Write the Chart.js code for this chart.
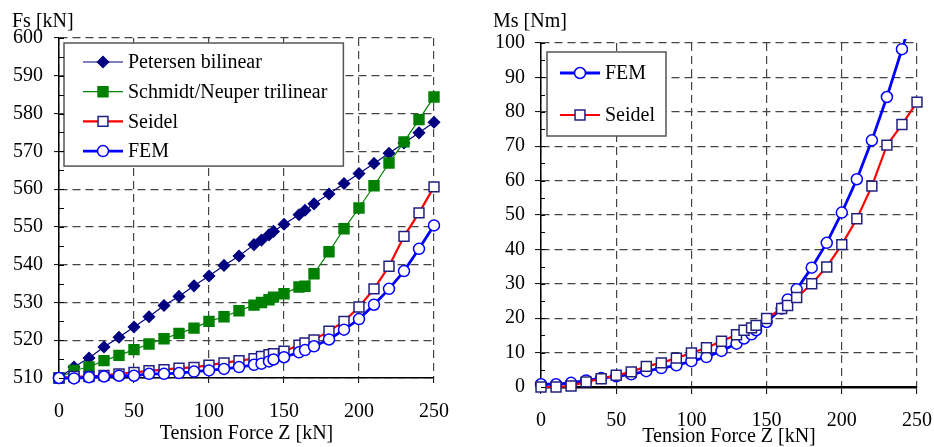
<!DOCTYPE html>
<html>
<meta charset="UTF-8">
<head>
    <title>Fs / Ms vs Tension Force Z</title>
    <script src="https://cdn.jsdelivr.net/npm/chart.js"></script>
    <style>
        body { margin: 0; background: #fff; }
        #wrap { position: relative; width: 934px; height: 447px; overflow: hidden; font-family: "Liberation Serif", serif; }
        canvas { position: absolute; top: 0; }
        .ytitle { position: absolute; top: 8px; font-size: 20px; line-height: 24px; color: #000; }
    </style>
</head>
<body>
<div id="wrap">
    <canvas id="chartFs" width="460" height="447" style="left:0"></canvas>
    <canvas id="chartMs" width="464" height="447" style="left:470px"></canvas>
    <div class="ytitle" style="left:12px">Fs [kN]</div>
    <div class="ytitle" style="left:493px">Ms [Nm]</div>
</div>

<script>
    // tension force Z [kN] where the markers sit
    const tensionZ = [0, 10, 20, 30, 40, 50, 60, 70, 80, 90, 100, 110, 120, 130, 135, 140, 143,
        150, 160, 164, 170, 180, 190, 200, 210, 220, 230, 240, 250];
    // the curves run on a little past the last marker
    const tailZ = 255;

    // Fs [kN] (left chart), last value = tail point
    const fsPetersen = [510, 512.9, 515.3, 518.2, 520.8, 523.5, 526.2, 529.2, 531.6, 534.4, 537.0,
        539.8, 542.3, 545.3, 546.5, 547.9, 548.8, 550.7, 553.2, 554.4, 556.1, 558.7, 561.5, 564.1,
        566.8, 569.5, 572.2, 574.9, 577.7, 579.3];
    const fsSchmidt = [510, 512.0, 512.9, 514.6, 516.0, 517.5, 519.0, 520.4, 521.8, 523.2, 525.0,
        526.2, 527.8, 529.3, 530.0, 530.7, 531.4, 532.3, 534.1, 534.3, 537.6, 543.4, 549.5, 555.0,
        560.9, 566.9, 572.5, 578.4, 584.4, 587.2];
    const fsSeidel = [510, 510.4, 510.4, 510.7, 511.1, 511.5, 511.9, 512.2, 512.6, 512.8, 513.4,
        514.0, 514.6, 515.1, 515.7, 516.2, 516.4, 517.1, 518.7, 519.3, 520.1, 522.4, 525.0, 528.8,
        533.6, 539.6, 547.5, 553.7, 560.6, 564.7];
    const fsFem = [510, 509.9, 510.2, 510.4, 510.6, 510.6, 511.1, 511.1, 511.3, 511.7, 512.0,
        512.4, 512.9, 513.5, 513.8, 514.4, 514.9, 515.5, 516.8, 517.4, 518.4, 520.2, 522.8, 525.6,
        529.4, 533.6, 538.3, 544.2, 550.4, 554.1];

    // Ms [Nm] (right chart)
    const msFem = [0.8, 0.8, 1.2, 1.9, 2.6, 3.1, 3.7, 4.6, 5.5, 6.3, 7.5, 8.7, 10.5, 12.6, 14.1,
        15.3, 16.5, 18.9, 22.8, 25.4, 28.4, 34.7, 41.9, 50.7, 60.4, 71.7, 84.3, 98.2, 112];
    const msSeidel = [0, 0, 0.3, 1.5, 2.4, 3.4, 4.4, 6.0, 7.0, 8.4, 9.9, 11.4, 13.3, 15.2, 16.5,
        17.2, 17.9, 19.9, 22.8, 23.7, 26.0, 30.0, 34.9, 41.4, 48.9, 58.4, 70.3, 76.3, 82.8, 86.5];

    const xTicks = [0, 50, 100, 150, 200, 250];
    const fsRange = [510, 600];
    const msRange = [0, 100];

    Chart.defaults.font.family = '"Liberation Serif", "Times New Roman", serif';
    Chart.defaults.font.size = 20;
    Chart.defaults.color = '#000';

    function points(xs, ys) {
        return ys.map((y, i) => ({x: i < xs.length ? xs[i] : tailZ, y: y}));
    }
    // no marker on the tail point
    function radii(ys, r) {
        return ys.map((y, i) => i < tensionZ.length ? r : 0);
    }

    function series(label, ys, color, width, style, r, fill, edge) {
        return {
            label: label,
            data: points(tensionZ, ys),
            borderColor: color,
            borderWidth: width,
            pointStyle: style,
            pointRadius: radii(ys, r),
            pointBackgroundColor: fill,
            pointBorderColor: edge,
            pointBorderWidth: 1.5,
            tension: 0,
            clip: {left: 8, top: 4, right: 8, bottom: 8}
        };
    }

    function drawMarker(ctx, style, r, x, y) {
        if (Chart.helpers && Chart.helpers.drawPoint) {
            Chart.helpers.drawPoint(ctx, {pointStyle: style, radius: r, rotation: 0, borderWidth: ctx.lineWidth}, x, y);
            return;
        }
        ctx.beginPath();
        if (style === 'circle') ctx.arc(x, y, r, 0, Math.PI * 2);
        else if (style === 'rectRot') { ctx.moveTo(x, y - r); ctx.lineTo(x + r, y); ctx.lineTo(x, y + r); ctx.lineTo(x - r, y); ctx.closePath(); }
        else { const s = r * Math.SQRT1_2; ctx.rect(x - s, y - s, 2 * s, 2 * s); }
        ctx.fill();
        ctx.stroke();
    }

    // legend box inside the plot area
    const insideLegend = {
        id: 'insideLegend',
        afterDatasetsDraw(chart, args, o) {
            const ctx = chart.ctx, area = chart.chartArea;
            const sets = o.order.map(i => chart.data.datasets[i]);
            ctx.save();
            ctx.font = '20px "Liberation Serif", serif';
            const textW = Math.max(...sets.map(d => ctx.measureText(d.label).width));
            const x = area.left + o.dx, y = area.top + o.dy;
            const w = o.padLeft + o.sample + o.gap + textW + o.padRight;
            const h = o.padTop + o.rowGap * (sets.length - 1) + o.padBottom;
            ctx.fillStyle = '#fff';
            ctx.strokeStyle = '#555';
            ctx.lineWidth = 1.5;
            ctx.fillRect(x, y, w, h);
            ctx.strokeRect(x, y, w, h);
            sets.forEach((d, i) => {
                const ry = y + o.padTop + i * o.rowGap;
                const sx = x + o.padLeft;
                ctx.strokeStyle = d.borderColor;
                ctx.lineWidth = d.borderWidth;
                ctx.beginPath();
                ctx.moveTo(sx, ry);
                ctx.lineTo(sx + o.sample, ry);
                ctx.stroke();
                ctx.fillStyle = d.pointBackgroundColor;
                ctx.strokeStyle = d.pointBorderColor;
                ctx.lineWidth = d.pointBorderWidth;
                drawMarker(ctx, d.pointStyle, d.pointRadius[0], sx + o.sample / 2, ry);
                ctx.fillStyle = '#000';
                ctx.textBaseline = 'middle';
                ctx.textAlign = 'left';
                ctx.fillText(d.label, sx + o.sample + o.gap, ry + 1);
            });
            ctx.restore();
        }
    };

    // short inner ticks on the y axis at every half step
    const innerTicks = {
        id: 'innerTicks',
        afterDraw(chart, args, o) {
            const ctx = chart.ctx, sc = chart.scales.y, left = chart.chartArea.left;
            ctx.save();
            ctx.strokeStyle = '#000';
            ctx.lineWidth = 1;
            for (let v = sc.min; v <= sc.max + 1e-9; v += o.step) {
                const py = Math.round(sc.getPixelForValue(v)) + 0.5;
                ctx.beginPath();
                ctx.moveTo(left, py);
                ctx.lineTo(left + o.length, py);
                ctx.stroke();
            }
            ctx.restore();
        }
    };

    function xScale(axisWidth, tickLen, pad, fitH, titleBottom) {
        return {
            type: 'linear',
            min: 0,
            max: 250,
            afterBuildTicks: s => { s.ticks = xTicks.map(v => ({value: v})); },
            afterFit: s => { s.height = fitH; s.paddingLeft = 0; s.paddingRight = 0; },
            ticks: {padding: pad, maxRotation: 0},
            grid: {color: '#444', lineWidth: 1.2, tickLength: tickLen, tickColor: '#000', tickWidth: 1},
            border: {color: '#000', width: axisWidth, dash: [8, 5]},
            title: {display: true, text: 'Tension Force Z [kN]', padding: {top: 0, bottom: titleBottom}}
        };
    }

    function yScale(range, step, fitW, tickLen, pad) {
        return {
            type: 'linear',
            min: range[0],
            max: range[1],
            afterFit: s => { s.width = fitW; },
            ticks: {stepSize: step, padding: pad},
            grid: {color: '#444', lineWidth: 1.2, tickLength: tickLen, tickColor: '#000', tickWidth: 1},
            border: {color: '#000', width: 1.5, dash: [8, 5]}
        };
    }

    new Chart(document.getElementById('chartFs'), {
        type: 'line',
        data: {
            datasets: [
                series('FEM', fsFem, '#0000ff', 2.8, 'circle', 5.5, '#fff', '#0000ff'),
                series('Seidel', fsSeidel, '#ff0000', 2.2, 'rect', 7, '#fff', '#202080'),
                series('Schmidt/Neuper trilinear', fsSchmidt, '#008000', 1.2, 'rect', 7, '#008000', '#008000'),
                series('Petersen bilinear', fsPetersen, '#000080', 1.2, 'rectRot', 5.5, '#000080', '#000080')
            ]
        },
        options: {
            responsive: false,
            animation: false,
            devicePixelRatio: 1,
            layout: {padding: {top: 38, right: 26, left: 0, bottom: 0}},
            scales: {
                x: xScale(1.5, 5, 17, 69, 1),
                y: yScale(fsRange, 10, 59, 5, 11)
            },
            plugins: {
                legend: {display: false},
                tooltip: {enabled: false},
                insideLegend: {order: [3, 2, 1, 0], dx: 5, dy: 5, padLeft: 19, sample: 40, gap: 5,
                    padRight: 16, padTop: 19, rowGap: 29.7, padBottom: 15},
                innerTicks: {step: 5, length: 5}
            }
        },
        plugins: [insideLegend, innerTicks]
    });

    new Chart(document.getElementById('chartMs'), {
        type: 'line',
        data: {
            datasets: [
                series('Seidel', msSeidel, '#ff0000', 2.2, 'rect', 7, '#fff', '#202080'),
                series('FEM', msFem, '#0000ff', 2.8, 'circle', 5.5, '#fff', '#0000ff')
            ]
        },
        options: {
            responsive: false,
            animation: false,
            devicePixelRatio: 1,
            layout: {padding: {top: 43, right: 17, left: 0, bottom: 0}},
            scales: {
                x: xScale(2.5, 7, 15, 60, -2),
                y: yScale(msRange, 10, 71, 6, 10)
            },
            plugins: {
                legend: {display: false},
                tooltip: {enabled: false},
                insideLegend: {order: [1, 0], dx: 6, dy: 9, padLeft: 13, sample: 40, gap: 5,
                    padRight: 11, padTop: 21, rowGap: 42, padBottom: 21},
                innerTicks: {step: 5, length: 4}
            }
        },
        plugins: [insideLegend, innerTicks]
    });
</script>
</body>
</html>
